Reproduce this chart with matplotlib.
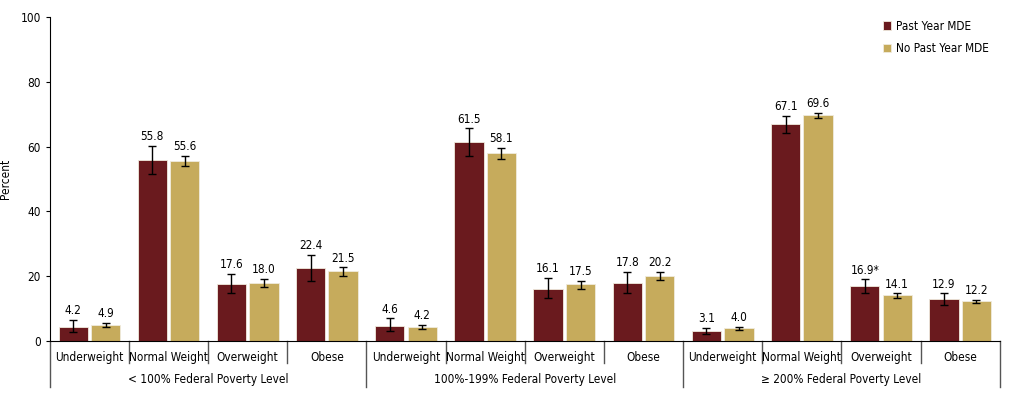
import numpy as np
import matplotlib
matplotlib.use('Agg')
import matplotlib.pyplot as plt

plt.rcParams['font.family'] = ['DejaVu Sans']
plt.rcParams['font.stretch'] = 'condensed'

# data
groups = ['< 100% Federal Poverty Level', '100%-199% Federal Poverty Level', '\u2265 200% Federal Poverty Level']
cats = ['Underweight', 'Normal Weight', 'Overweight', 'Obese']
series_names = ['Past Year MDE', 'No Past Year MDE']

past_vals = [4.2, 55.8, 17.6, 22.4, 4.6, 61.5, 16.1, 17.8, 3.1, 67.1, 16.9, 12.9]
past_lo = [2.7, 51.4, 14.7, 18.5, 3.1, 57.0, 13.2, 14.7, 2.2, 64.3, 14.7, 11.1]
past_hi = [6.5, 60.1, 20.8, 26.5, 7.0, 65.6, 19.5, 21.3, 4.1, 69.5, 19.0, 14.7]
past_labels = ['4.2', '55.8', '17.6', '22.4', '4.6', '61.5', '16.1', '17.8', '3.1', '67.1', '16.9*', '12.9']

nopast_vals = [4.9, 55.6, 18.0, 21.5, 4.2, 58.1, 17.5, 20.2, 4.0, 69.6, 14.1, 12.2]
nopast_lo = [4.2, 54.0, 16.8, 20.1, 3.6, 56.3, 16.2, 18.8, 3.5, 68.7, 13.4, 11.6]
nopast_hi = [5.65, 57.1, 19.2, 22.7, 4.9, 59.6, 18.6, 21.4, 4.4, 70.4, 14.7, 12.8]
nopast_labels = ['4.9', '55.6', '18.0', '21.5', '4.2', '58.1', '17.5', '20.2', '4.0', '69.6', '14.1', '12.2']

C_PAST = '#6A1A1E'
C_NO = '#C6AB5C'
FS = 8.5

fig = plt.figure(figsize=(10.17, 4.0), dpi=100)
ax = fig.add_axes([0.049, 0.1475, 0.934, 0.81])

x = np.arange(len(past_vals))
w = 0.37
off = 0.205

def draw(xs, vals, lo, hi, labels, color, name):
    vals = np.array(vals)
    yerr = [vals - np.array(lo), np.array(hi) - vals]
    ax.bar(xs, vals, w, color=color, edgecolor='#F0EBDD', linewidth=0.6, label=name, zorder=2)
    ax.errorbar(xs, vals, yerr=yerr, fmt='none', ecolor='black', elinewidth=1.0,
                capsize=3, capthick=1.0, zorder=3)
    for xi, top, lab in zip(xs, hi, labels):
        ax.annotate(lab, (xi, top), xytext=(0, 2), textcoords='offset points',
                    ha='center', va='bottom', fontsize=FS)

draw(x - off, past_vals, past_lo, past_hi, past_labels, C_PAST, series_names[0])
draw(x + off, nopast_vals, nopast_lo, nopast_hi, nopast_labels, C_NO, series_names[1])

ax.set_xlim(-0.5, len(x) - 0.5)
ax.set_ylim(0, 100)
ax.set_yticks([0, 20, 40, 60, 80, 100])
ax.tick_params(axis='y', labelsize=FS, length=3, width=0.8)
ax.set_xticks([])
ax.set_ylabel('Percent', fontsize=FS)
ax.yaxis.set_label_coords(-0.04, 0.5)
for s in ['top', 'right']:
    ax.spines[s].set_visible(False)
ax.spines['left'].set_bounds(0, 100)

# category labels and separators below the axis
tr = ax.get_xaxis_transform()
for i in range(len(x)):
    ax.text(i, -0.05, cats[i % 4], transform=tr, ha='center', va='center', fontsize=FS)
for b in np.arange(-0.5, len(x), 1.0):
    long = (b + 0.5) % 4 == 0
    ax.plot([b, b], [0, -0.143 if long else -0.068], transform=tr, color='#555555',
            lw=1.0, clip_on=False)
for g, name in enumerate(groups):
    ax.text(g * 4 + 1.5, -0.12, name, transform=tr, ha='center', va='center', fontsize=FS)

leg = ax.legend(loc='upper right', bbox_to_anchor=(1.0, 1.025), frameon=False, fontsize=FS,
                handlelength=0.7, handleheight=0.7, handletextpad=0.4, labelspacing=0.8)

fig.savefig('out.png', dpi=100)
